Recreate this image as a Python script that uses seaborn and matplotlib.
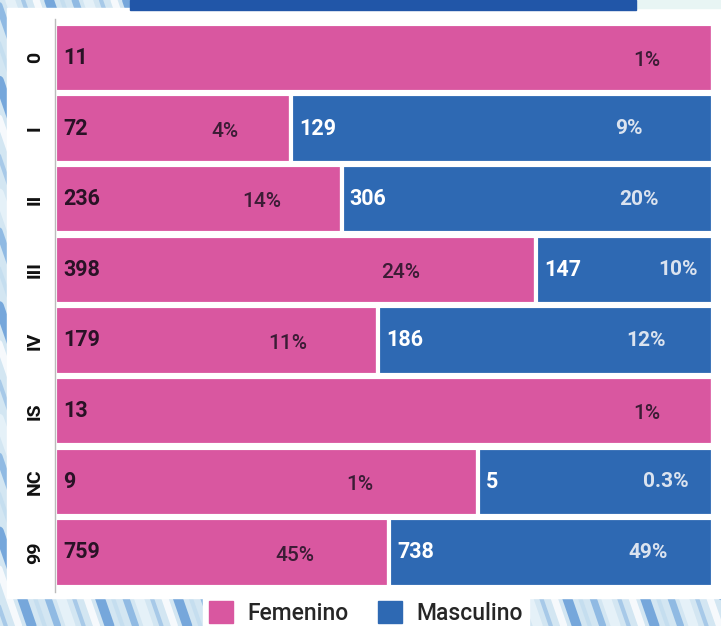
import numpy as np
import pandas as pd
import seaborn as sns
import matplotlib.pyplot as plt
from matplotlib.patches import Patch, Rectangle
from matplotlib.lines import Line2D

# data
stages = ["0", "I", "II", "III", "IV", "IS", "NC", "99"]
femenino = [11, 72, 236, 398, 179, 13, 9, 759]
masculino = [0, 129, 306, 147, 186, 0, 5, 738]

PINK = "#D957A0"
BLUE = "#2E69B3"


def pct_label(value, total):
    # whole percent, one decimal when it would round to 0
    p = 100 * value / total
    return f"{p:.0f}%" if round(p) >= 1 else f"{p:.1f}%"


def draw_background(fig):
    fig.patch.set_facecolor("#d3e6f2")
    stripe_colors = ["#9cc2e6", "#ffffff", "#5f98d6", "#c2dcef", "#7fb0e0", "#eaf4fa"]
    for k, x0 in enumerate(np.arange(-0.4, 1.1, 0.018)):
        fig.add_artist(Line2D([x0, x0 + 0.3], [1, 0], transform=fig.transFigure,
                              color=stripe_colors[k % len(stripe_colors)],
                              lw=3 + (k % 3) * 2, alpha=0.8, zorder=-5))
    # white panel behind the chart
    fig.add_artist(Rectangle((7 / 721, 28 / 626), 714 / 721, 590 / 626,
                             transform=fig.transFigure, color="white", zorder=-3))
    fig.add_artist(Rectangle((636 / 721, 618 / 626), 85 / 721, 8 / 626,
                             transform=fig.transFigure, color="#e8f5f4", zorder=-3))
    # header band (title cut off)
    fig.add_artist(Rectangle((130 / 721, 616 / 626), 506 / 721, 10 / 626,
                             transform=fig.transFigure, color="#2156A8", zorder=-2))


def main():
    sns.set_style("white")
    plt.rcParams["font.family"] = ["Roboto", "DejaVu Sans"]

    df = pd.DataFrame({
        "Estadio": stages * 2,
        "Sexo": ["Femenino"] * len(stages) + ["Masculino"] * len(stages),
        "Casos": femenino + masculino,
    })

    fig = plt.figure(figsize=(7.21, 6.26), dpi=100)
    draw_background(fig)
    ax = fig.add_axes([55 / 721, 34 / 626, 658 / 721, 573 / 626])

    sns.histplot(data=df, y="Estadio", hue="Sexo", weights="Casos",
                 multiple="fill", discrete=True, shrink=0.965,
                 hue_order=["Masculino", "Femenino"],
                 palette={"Femenino": PINK, "Masculino": BLUE},
                 alpha=1, edgecolor="white", linewidth=3, legend=False, ax=ax)

    ax.set_xlim(0, 1)
    ax.set_ylim(7.56, -0.55)
    ax.set_xticks([])
    ax.set_yticks(range(len(stages)))
    ax.set_yticklabels(stages, rotation=90, va="center", fontsize=14,
                       fontweight="bold", color="#111111")
    ax.tick_params(axis="y", length=0, pad=8)
    ax.set_xlabel("")
    ax.set_ylabel("")
    for side in ["top", "right", "bottom"]:
        ax.spines[side].set_visible(False)
    ax.spines["left"].set_color("#bbbbbb")
    ax.spines["left"].set_linewidth(1)

    fem_total = sum(femenino)
    masc_total = sum(masculino)
    for i, (f, m) in enumerate(zip(femenino, masculino)):
        frac = f / (f + m)
        ax.annotate(str(f), xy=(0, i), xytext=(6, 0), textcoords="offset points",
                    va="center", ha="left", fontsize=15.5, fontweight="bold", color="#2a1226")
        pct_x = frac - 0.1 if m == 0 else 0.72 * frac
        ax.text(pct_x, i + 0.04, pct_label(f, fem_total),
                va="center", ha="center", fontsize=15, fontweight="medium", color="#3b1c35")
        if m > 0:
            ax.annotate(str(m), xy=(frac, i), xytext=(6, 0), textcoords="offset points",
                        va="center", ha="left", fontsize=15.5, fontweight="bold", color="white")
            ax.text(frac + 0.8 * (1 - frac), i, pct_label(m, masc_total),
                    va="center", ha="center", fontsize=15, fontweight="bold", color="#dbe3ef")

    handles = [Patch(color=PINK, label="Femenino"), Patch(color=BLUE, label="Masculino")]
    leg = fig.legend(handles=handles, loc="center", bbox_to_anchor=(366 / 721, 13 / 626),
                     ncol=2, frameon=True, fancybox=False,
                     prop={"size": 16.5, "weight": "medium"},
                     handlelength=1.05, handleheight=1.05, handletextpad=0.6,
                     columnspacing=1.3, borderpad=0.3)
    leg.get_frame().set_facecolor("white")
    leg.get_frame().set_edgecolor("white")
    leg.get_frame().set_alpha(1)

    fig.savefig("out.png", dpi=100)


if __name__ == "__main__":
    main()
